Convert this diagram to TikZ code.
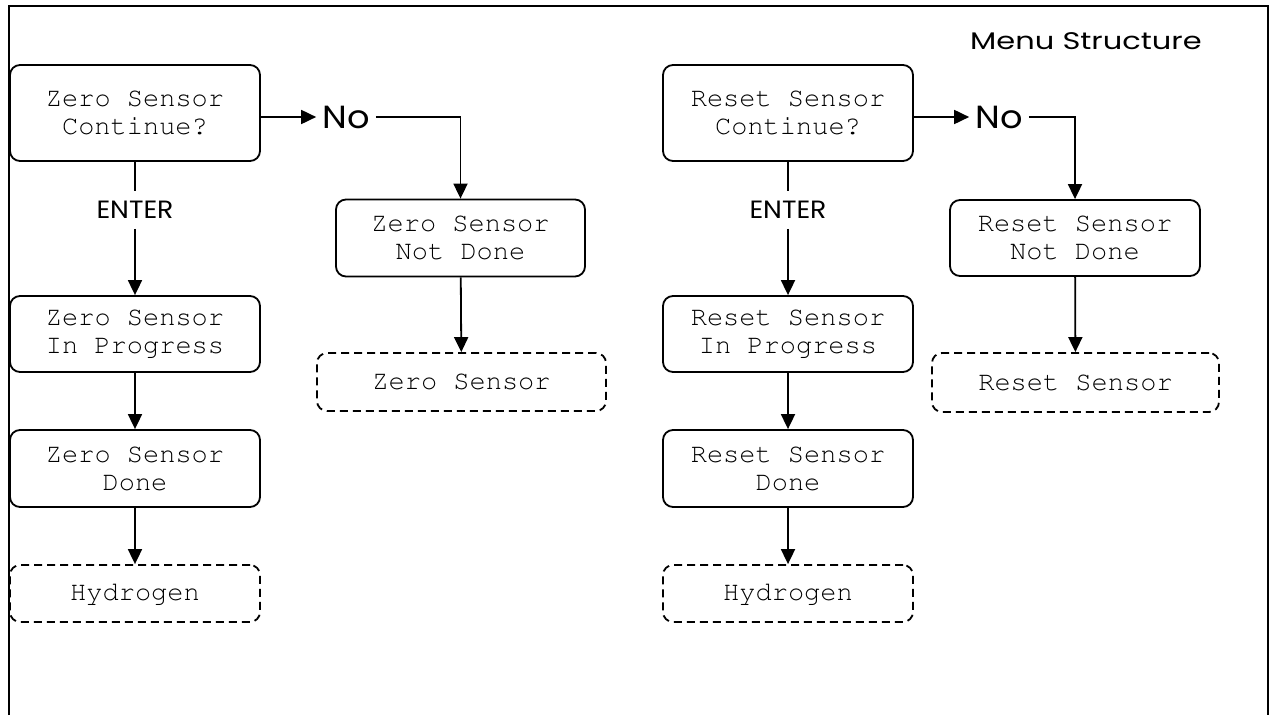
\documentclass[tikz,border=0pt]{standalone}
\usepackage[T1]{fontenc}
\usepackage{fontspec}
\setmainfont{Poppins}
\newfontfamily\gothicTitle[FakeStretch=1.27]{Poppins}
\newfontfamily\gothicNo[FakeStretch=1.1]{Poppins}
\newfontfamily\gothicEnter[FakeStretch=1.07]{Poppins}
\newcommand\crfont{\fontencoding{T1}\fontfamily{pcr}\selectfont}
\usetikzlibrary{arrows.meta}
\begin{document}
\begin{tikzpicture}[x=1pt,y=-1pt,
  every node/.style={inner sep=0pt},
  box/.style={draw, line width=1.8pt, rounded corners=10pt, align=center,
    font=\crfont\fontsize{27}{28}\selectfont},
  dbox/.style={box, dash pattern=on 8pt off 5pt},
  lbl/.style={font=\gothicTitle\fontsize{24}{28}\selectfont},
  nolbl/.style={font=\gothicNo\fontsize{32}{34}\selectfont, inner xsep=6pt},
  enterlbl/.style={font=\gothicEnter\fontsize{25}{28}\selectfont, inner ysep=10pt},
  conn/.style={line width=1.8pt},
  arr/.style={conn, -{Triangle[length=15pt,width=14pt]}}
]
\useasboundingbox (0,0) rectangle (1277,715);
\draw[line width=2pt] (9,715) -- (9,6) -- (1268,6) -- (1268,715);
\node[lbl] (title) at (1086,41) {Menu Structure};

% Zero sensor branch
\node[box, minimum width=250pt, minimum height=96pt] (z1) at (135,113) {Zero Sensor\\Continue?};
\node[enterlbl] (zenter) at (135,210) {ENTER};
\node[box, minimum width=250pt, minimum height=76pt] (zp) at (135,334) {Zero Sensor\\In Progress};
\node[box, minimum width=250pt, minimum height=77pt] (zd) at (135,468.5) {Zero Sensor\\Done};
\node[dbox, minimum width=250pt, minimum height=57pt] (zh) at (135,593.5) {Hydrogen};
\node[nolbl] (zno) at (346,117) {No};
\node[box, minimum width=249pt, minimum height=77pt] (zn) at (460.5,238) {Zero Sensor\\Not Done};
\node[dbox, minimum width=289pt, minimum height=58pt] (zs) at (461.5,382) {Zero Sensor};

\draw[conn] (z1) -- (zenter);
\draw[arr] (zenter) -- (zp);
\draw[arr] (zp) -- (zd);
\draw[arr] (zd) -- (zh);
\draw[arr] (z1.east |- zno.west) -- (zno.west);
\draw[arr] (zno.east) -| (zn.north);
\draw[arr] (zn) -- (zs);

% Reset sensor branch
\node[box, minimum width=250pt, minimum height=96pt] (r1) at (788,113) {Reset Sensor\\Continue?};
\node[enterlbl] (renter) at (788,210) {ENTER};
\node[box, minimum width=250pt, minimum height=76pt] (rp) at (788,334) {Reset Sensor\\In Progress};
\node[box, minimum width=250pt, minimum height=77pt] (rd) at (788,468.5) {Reset Sensor\\Done};
\node[dbox, minimum width=250pt, minimum height=57pt] (rh) at (788,593.5) {Hydrogen};
\node[nolbl] (rno) at (999,117) {No};
\node[box, minimum width=250pt, minimum height=76pt] (rn) at (1075,238) {Reset Sensor\\Not Done};
\node[dbox, minimum width=287pt, minimum height=59pt] (rs) at (1075.5,382.5) {Reset Sensor};

\draw[conn] (r1) -- (renter);
\draw[arr] (renter) -- (rp);
\draw[arr] (rp) -- (rd);
\draw[arr] (rd) -- (rh);
\draw[arr] (r1.east |- rno.west) -- (rno.west);
\draw[arr] (rno.east) -| (rn.north);
\draw[arr] (rn) -- (rs);
\end{tikzpicture}
\end{document}
